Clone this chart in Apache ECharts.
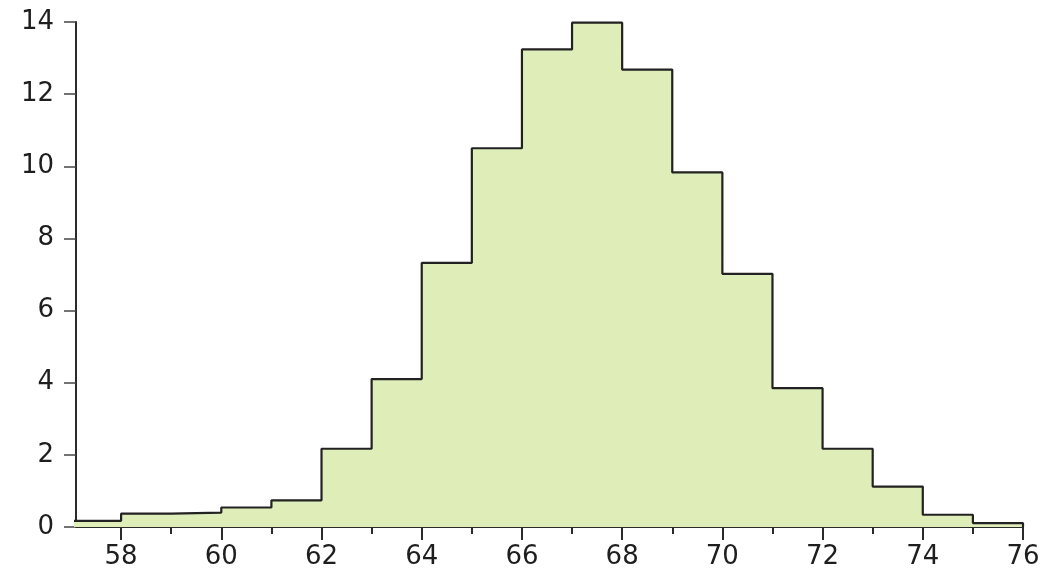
<!DOCTYPE html>
<html>
<head>
<meta charset="utf-8">
<script src="https://cdn.jsdelivr.net/npm/echarts@6/dist/echarts.min.js"></script>
<style>
html,body{margin:0;padding:0;background:#fff;}
#chart{width:1054px;height:577px;}
</style>
</head>
<body>
<div id="chart"></div>
<script>
// Bin left edges (width 1) and heights
const binStarts = [57,58,59,60,61,62,63,64,65,66,67,68,69,70,71,72,73,74,75];
const binValues = [0.17,0.37,0.40,0.54,0.74,2.17,4.10,7.32,10.50,13.24,13.98,12.68,9.83,7.02,3.85,2.17,1.12,0.34,0.11];
const binEnd = 76;
const majorTicks = [58,60,62,64,66,68,70,72,74,76];
const minorTicks = [59,61,63,65,67,69,71,73,75];
const yTicks = [0,2,4,6,8,10,12,14];

const stepData = binStarts.map((x, i) => [x, binValues[i]]);
stepData.push([binEnd, binValues[binValues.length - 1]]);
stepData.push([binEnd, 0]);

const labelFont = {fontFamily: 'DejaVu Sans', fontSize: 26, color: '#1e1e1e'};
const chart = echarts.init(document.getElementById('chart'));
chart.setOption({
  animation: false,
  backgroundColor: '#fff',
  grid: {left: 76, right: 31, top: 22, bottom: 50, containLabel: false},
  xAxis: [{
    type: 'value', min: 57.1, max: 76,
    axisLine: {show: true, lineStyle: {color: '#2a2a2a', width: 2}},
    axisTick: {show: true, inside: false, length: 13, customValues: majorTicks, lineStyle: {color: '#2a2a2a', width: 2}},
    axisLabel: Object.assign({customValues: majorTicks, margin: 17}, labelFont),
    splitLine: {show: false}
  }, {
    type: 'value', min: 57.1, max: 76, position: 'bottom',
    axisLine: {show: false},
    axisTick: {show: true, inside: false, length: 7, customValues: minorTicks, lineStyle: {color: '#2a2a2a', width: 2}},
    axisLabel: {show: false},
    splitLine: {show: false}
  }],
  yAxis: {
    type: 'value', min: 0, max: 14, interval: 2,
    axisLine: {show: true, lineStyle: {color: '#2a2a2a', width: 2}},
    axisTick: {show: true, inside: false, length: 12, lineStyle: {color: '#444', width: 1.5}},
    axisLabel: Object.assign({margin: 22, formatter: v => yTicks.includes(v) ? String(v) : ''}, labelFont),
    splitLine: {show: false}
  },
  series: [{
    type: 'line',
    xAxisIndex: 0,
    step: 'end',
    data: stepData,
    showSymbol: false,
    symbol: 'none',
    lineStyle: {color: '#222', width: 2.2},
    areaStyle: {color: '#dfeeb8', opacity: 1},
    z: 1
  }]
});
</script>
</body>
</html>
